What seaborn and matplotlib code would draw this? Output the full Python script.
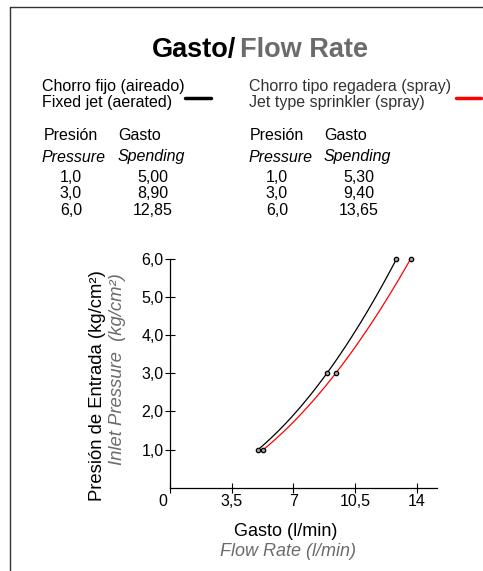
import matplotlib.pyplot as plt
import seaborn as sns
import pandas as pd
from matplotlib.lines import Line2D
from matplotlib.transforms import ScaledTranslation

# data
pressure = [1.0, 3.0, 6.0]
fixed_flow = [5.00, 8.90, 12.85]
spray_flow = [5.30, 9.40, 13.65]
x_ticks = [0, 3.5, 7, 10.5, 14]
x_tick_labels = ["0", "3,5", "7", "10,5", "14"]
y_ticks = [1, 2, 3, 4, 5, 6]
y_tick_labels = ["1,0", "2,0", "3,0", "4,0", "5,0", "6,0"]

sns.set_style("white")
plt.rcParams['font.family'] = ['Liberation Sans', 'DejaVu Sans']
plt.rcParams['text.color'] = 'black'

W, H = 483, 571
GRAY = "#6b6b6b"
FS = 11.5

fig = plt.figure(figsize=(W / 100, H / 100), dpi=100)


def px(x, y):
    return x / W, 1 - y / H


def ftext(x, y, s, **kw):
    fx, fy = px(x, y)
    fig.text(fx, fy, s, **kw)


# frame lines
fig.add_artist(Line2D([10 / W, 10 / W], [0, 1 - 7 / H], color="#333333", lw=1))
fig.add_artist(Line2D([10 / W, 1], [1 - 7 / H, 1 - 7 / H], color="#333333", lw=1))

# title
ftext(236, 50, "Gasto/", fontsize=19.5, fontweight="bold", ha="right", va="center")
ftext(240, 50, "Flow Rate", fontsize=19.5, fontweight="bold", color=GRAY, ha="left", va="center")

# legend texts
ftext(42, 87, "Chorro fijo (aireado)", fontsize=FS, va="center")
ftext(42, 103, "Fixed jet (aerated)", fontsize=FS, va="center")
ftext(249, 87, "Chorro tipo regadera (spray)", fontsize=FS, color="#333333", va="center")
ftext(249, 103, "Jet type sprinkler (spray)", fontsize=FS, color="#333333", va="center")
fig.add_artist(Line2D([185 / W, 211 / W], [1 - 98 / H] * 2, color="black", lw=2.5))
fig.add_artist(Line2D([456 / W, 481 / W], [1 - 98 / H] * 2, color="red", lw=2.5))

# tables
rows_y = [177, 194, 211]
for x0, flows in [(0, fixed_flow), (206, spray_flow)]:
    ftext(44 + x0, 135, "Presión", fontsize=FS, va="center")
    ftext(118 + x0, 135, "Gasto", fontsize=FS, va="center")
    ftext(42 + x0, 157, "Pressure", fontsize=FS, style="italic", va="center")
    ftext(118 + x0, 157, "Spending", fontsize=FS, style="italic", va="center")
    for yy, p, f in zip(rows_y, pressure, flows):
        ftext(71 + x0, yy, f"{p:.1f}".replace(".", ","), fontsize=FS, ha="center", va="center")
        ftext(153 + x0, yy, f"{f:.2f}".replace(".", ","), fontsize=FS, ha="center", va="center")

# chart
ax = fig.add_axes([170 / W, 1 - 487.7 / H, (437 - 170) / W, (487.7 - 259) / H])

df = pd.DataFrame({
    "flow": fixed_flow + spray_flow,
    "pressure": pressure * 2,
    "jet": ["fixed"] * 3 + ["spray"] * 3,
})

for jet, color in [("fixed", "black"), ("spray", "red")]:
    sub = df[df["jet"] == jet]
    sns.regplot(x="flow", y="pressure", data=sub, order=2, ci=None, scatter=False,
                line_kws={"color": color, "lw": 0.9}, ax=ax)

sns.scatterplot(x="flow", y="pressure", data=df, marker="o", s=10,
                facecolor="#a0a0a0", edgecolor="black", linewidth=0.9,
                clip_on=False, zorder=5, legend=False, ax=ax)

ax.set_xlim(0, 15.15)
ax.set_ylim(0, 6)
ax.set_xticks(x_ticks)
ax.set_xticklabels(x_tick_labels)
ax.set_yticks(y_ticks)
ax.set_yticklabels(y_tick_labels)
ax.tick_params(axis="both", direction="inout", length=7, width=0.8, labelsize=FS,
               colors="black", pad=1, left=True, bottom=True)
ax.set_xlabel("")
ax.set_ylabel("")
for side in ["top", "right"]:
    ax.spines[side].set_visible(False)
for side in ["left", "bottom"]:
    ax.spines[side].set_color("black")
    ax.spines[side].set_linewidth(0.9)

lab0 = ax.get_xticklabels()[0]
lab0.set_transform(lab0.get_transform() + ScaledTranslation(-7 / 100, 0, fig.dpi_scale_trans))

# axis titles
ftext(286, 532, "Gasto (l/min)", fontsize=13, ha="center", va="center")
ftext(288, 551, "Flow Rate (l/min)", fontsize=13, style="italic", color=GRAY,
      ha="center", va="center")
ftext(97, 270, "Presión de Entrada (kg/cm²)", fontsize=13.3, rotation=90, ha="center", va="top")
ftext(118, 273, "Inlet Pressure  (kg/cm²)", fontsize=13.3, style="italic", color=GRAY,
      rotation=90, ha="center", va="top")

plt.savefig("out.png", dpi=100)
